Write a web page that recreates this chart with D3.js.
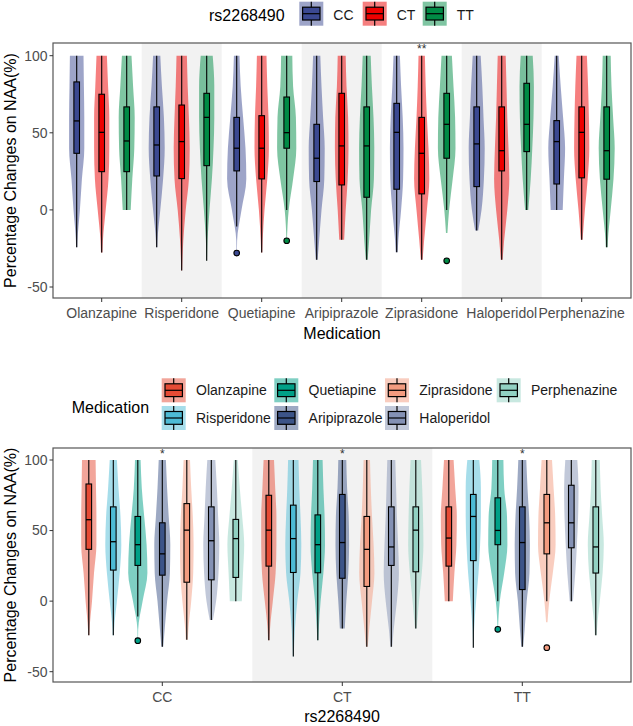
<!DOCTYPE html>
<html><head><meta charset="utf-8">
<script src="https://cdn.jsdelivr.net/npm/d3@7"></script>
<style>body{margin:0;background:#fff}svg{display:block;font-family:"Liberation Sans",Arial,sans-serif}</style>
</head><body>
<svg id="c" width="633" height="726"></svg>
<script>
const medications = ["Olanzapine","Risperidone","Quetiapine","Aripiprazole","Ziprasidone","Haloperidol","Perphenazine"];
const genotypes = ["CC","CT","TT"];
const yTicks = [-50, 0, 50, 100];
const densityLevels = [-40, -20, 0, 20, 40, 60, 80, 100];

// values per medication, in genotype order CC, CT, TT
const q1Values     = [[36.7,24.8,24.8],[22,20.3,28.7],[25.3,20.1,40],[18.4,16.2,8.2],[13.4,10.4,33.5],[15.1,25.3,37.8],[16.8,20.8,19.9]];
const medianValues = [[57.7,50.3,44.7],[42.1,44.3,60],[40,40,50.1],[33.5,41.5,41.5],[50.3,36.7,55.5],[42.8,38.4,55.5],[44.3,50.3,38.4]];
const q3Values     = [[83,75,66.8],[66.8,68,75.6],[60,61.1,73.2],[55.5,75.6,66.8],[69.1,60,75.6],[66.8,66.8,82.1],[57.9,66.8,66.8]];
const lowWhisker   = [[-24.2,-27.7,0],[-24.2,-39.3,-33],[-10.8,-27.7,0],[-32.4,-19.4,-32.4],[-27.4,-32.4,0],[-13.4,-32.4,0],[0,-19.4,-24.2]];
const highWhisker  = [[100,100,100],[100,100,100],[100,100,100],[100,100,100],[100,100,100],[100,100,100],[100,100,100]];
const violinMin    = [[-24.2,-27.7,0],[-24.2,-39.3,-33],[-28,-27.7,-20],[-32.4,-19.4,-32.4],[-27.4,-32.4,-15],[-13.4,-32.4,0],[0,-19.4,-24.2]];
const outlierValues= [[[],[],[]],[[],[],[]],[[-28],[],[-20]],[[],[],[]],[[],[],[-33]],[[],[],[]],[[],[],[]]];
// relative violin density at densityLevels
const densities = [
  [[0,.1,.4,.65,.95,.95,.9,.85],[0,.15,.5,.85,.95,.95,.8,.65],[0,0,.5,.7,.95,1,.8,.6]],
  [[0,.1,.45,.8,1,.9,.65,.45],[.05,.2,.5,.9,1,.9,.75,.65],[0,.1,.35,.65,.85,.95,.95,.75]],
  [[0,.05,.6,1.2,1.1,.8,.5,.35],[0,.12,.35,.7,.9,.85,.7,.6],[0,.03,.25,.8,1.2,1.15,.8,.7]],
  [[0,.3,.6,.95,1,.8,.6,.45],[0,.3,.5,.75,.85,.8,.6,.5],[0,.3,.55,.9,.95,.85,.65,.5]],
  [[0,.2,.55,.8,.85,.75,.55,.4],[0,.3,.65,.95,.85,.65,.5,.4],[0,.02,.3,.75,1.1,1.05,.85,.65]],
  [[0,0,.6,.9,1,.85,.7,.5],[0,.3,.7,.95,.85,.7,.6,.5],[0,0,.2,.5,.7,.85,.9,.75]],
  [[0,0,.75,.9,1.05,.8,.5,.25],[0,.1,.4,.75,.95,.9,.8,.65],[0,.15,.5,.85,1,.8,.6,.5]]
];
// significance marks: [medication, genotype, label] for each panel
const topMarks = [["Ziprasidone","CT","**"]];
const bottomMarks = [["CC","Aripiprazole","*"],["CT","Aripiprazole","*"],["TT","Aripiprazole","*"]];

const genotypeColors = {CC:"#3B4992", CT:"#EE0000", TT:"#008B45"};
const medicationColors = {Olanzapine:"#E64B35", Risperidone:"#4DBBD5", Quetiapine:"#00A087", Aripiprazole:"#3C5488", Ziprasidone:"#F39B7F", Haloperidol:"#8491B4", Perphenazine:"#91D1C2"};

const records = [];
medications.forEach((m,i)=>genotypes.forEach((g,j)=>records.push({
  med:m, geno:g, q1:q1Values[i][j], med50:medianValues[i][j], q3:q3Values[i][j],
  lo:lowWhisker[i][j], hi:highWhisker[i][j], vmin:violinMin[i][j], out:outlierValues[i][j], dens:densities[i][j]
})));

const svg = d3.select("#c");
const tickCol = "#4D4D4D";
const HALF_W = 8, BOX_HW = 2.8;

function densAt(d, v){
  const L = densityLevels;
  if (v <= L[0]) return d[0];
  for (let k=1;k<L.length;k++){ if (v<=L[k]){ const t=(v-L[k-1])/(L[k]-L[k-1]); return d[k-1]+(d[k]-d[k-1])*t; } }
  return d[L.length-1];
}

function drawPanel(cfg){
  const {x0,y0,w,h,outerDomain,outerRange,innerDomain,innerRange,yRange,outerKey,innerKey,colorOf,marks,xTitle,titleY,tickLabelY} = cfg;
  const g = svg.append("g");
  const xo = d3.scaleBand().domain(outerDomain).range(outerRange);
  const xi = d3.scaleBand().domain(innerDomain).range(innerRange);
  const y = d3.scaleLinear().domain([-50,100]).range(yRange);
  const cxOf = (o,i)=> xo(o)+xo.bandwidth()/2 + xi(i)+xi.bandwidth()/2;
  const clipId = "clip"+Math.round(y0);
  svg.append("clipPath").attr("id",clipId).append("rect").attr("x",x0).attr("y",y0).attr("width",w).attr("height",h);
  const pg = g.append("g").attr("clip-path",`url(#${clipId})`);
  pg.append("rect").attr("x",x0).attr("y",y0).attr("width",w).attr("height",h).attr("fill","#fff");
  outerDomain.forEach((o,k)=>{ if(k%2===1) pg.append("rect").attr("x",xo(o)).attr("y",y0).attr("width",xo.bandwidth()).attr("height",h).attr("fill","#F2F2F2"); });
  const area = d3.area().curve(d3.curveMonotoneY);
  records.forEach(r=>{
    const o=r[outerKey], i=r[innerKey], cx=cxOf(o,i), col=colorOf(r);
    const vals=[r.vmin, ...densityLevels.filter(v=>v>r.vmin && v<100), 100];
    const pts = vals.map(v=>({v, w:densAt(r.dens,v)*HALF_W}));
    area.x0(p=>cx-p.w).x1(p=>cx+p.w).y(p=>y(p.v));
    pg.append("path").attr("d",area(pts)).attr("fill",col).attr("fill-opacity",0.5);
  });
  records.forEach(r=>{
    const o=r[outerKey], i=r[innerKey], cx=cxOf(o,i), col=colorOf(r);
    pg.append("line").attr("x1",cx).attr("x2",cx).attr("y1",y(r.lo)).attr("y2",y(r.q1)).attr("stroke","#000").attr("stroke-width",1.1);
    pg.append("line").attr("x1",cx).attr("x2",cx).attr("y1",y(r.q3)).attr("y2",y(r.hi)).attr("stroke","#000").attr("stroke-width",1.1);
    pg.append("rect").attr("x",cx-BOX_HW).attr("y",y(r.q3)).attr("width",BOX_HW*2).attr("height",y(r.q1)-y(r.q3)).attr("fill",col).attr("stroke","#000").attr("stroke-width",1.1);
    pg.append("line").attr("x1",cx-BOX_HW).attr("x2",cx+BOX_HW).attr("y1",y(r.med50)).attr("y2",y(r.med50)).attr("stroke","#000").attr("stroke-width",1.3);
    r.out.forEach(v=>pg.append("circle").attr("cx",cx).attr("cy",y(v)).attr("r",2.8).attr("fill",col).attr("stroke","#000").attr("stroke-width",1.1));
  });
  marks.forEach(([o,i,lab])=>{
    pg.append("text").attr("x",cxOf(o,i)).attr("y",y0+9.5).attr("text-anchor","middle").attr("font-size",12).attr("fill","#333").text(lab);
  });
  g.append("rect").attr("x",x0).attr("y",y0).attr("width",w).attr("height",h).attr("fill","none").attr("stroke","#555").attr("stroke-width",1.2);
  // y axis
  yTicks.forEach(t=>{
    g.append("line").attr("x1",x0-3.5).attr("x2",x0).attr("y1",y(t)).attr("y2",y(t)).attr("stroke","#333").attr("stroke-width",1);
    g.append("text").attr("x",x0-5.5).attr("y",y(t)).attr("dy","0.35em").attr("text-anchor","end").attr("font-size",14).attr("fill",tickCol).text(t);
  });
  // x axis
  outerDomain.forEach(o=>{
    const cx = xo(o)+xo.bandwidth()/2;
    g.append("line").attr("x1",cx).attr("x2",cx).attr("y1",y0+h).attr("y2",y0+h+4).attr("stroke","#333").attr("stroke-width",1);
    g.append("text").attr("x",cx).attr("y",tickLabelY).attr("text-anchor","middle").attr("font-size",14).attr("fill",tickCol).text(o);
  });
  g.append("text").attr("x",x0+w/2).attr("y",titleY).attr("text-anchor","middle").attr("font-size",16).attr("fill","#000").text(xTitle);
  g.append("text").attr("transform",`translate(16,${y0+h/2}) rotate(-90)`).attr("text-anchor","middle").attr("font-size",16).attr("fill","#000").text("Percentage Changes on NAA(%)");
}

drawPanel({x0:53,y0:43,w:578,h:255,outerDomain:medications,outerRange:[61.7,621.7],innerDomain:genotypes,innerRange:[-37.5,37.5],
  yRange:[287,55.7],outerKey:"med",innerKey:"geno",colorOf:r=>genotypeColors[r.geno],marks:topMarks,xTitle:"Medication",titleY:339,tickLabelY:317.7});
drawPanel({x0:53,y0:448,w:578,h:234,outerDomain:genotypes,outerRange:[72.3,612.3],innerDomain:medications,innerRange:[-85.75,85.75],
  yRange:[671.7,460],outerKey:"geno",innerKey:"med",colorOf:r=>medicationColors[r.med],marks:bottomMarks,xTitle:"rs2268490",titleY:721.7,tickLabelY:701.7});

function legendKey(x,y,col){
  const g = svg.append("g");
  g.append("rect").attr("x",x).attr("y",y).attr("width",24).attr("height",24).attr("fill",col).attr("fill-opacity",0.5);
  g.append("line").attr("x1",x+12).attr("x2",x+12).attr("y1",y).attr("y2",y+24).attr("stroke","#000").attr("stroke-width",1.2);
  g.append("rect").attr("x",x+3.3).attr("y",y+5.5).attr("width",17.4).attr("height",12.8).attr("fill",col).attr("stroke","#000").attr("stroke-width",1.2);
  g.append("line").attr("x1",x+3.3).attr("x2",x+20.7).attr("y1",y+12).attr("y2",y+12).attr("stroke","#000").attr("stroke-width",1.2);
}
// top legend
svg.append("text").attr("x",209).attr("y",20.7).attr("font-size",16).attr("fill","#000").text("rs2268490");
const topKeyX = [299.3, 362.7, 422.7];
genotypes.forEach((gt,k)=>{
  legendKey(topKeyX[k],1.7,genotypeColors[gt]);
  svg.append("text").attr("x",topKeyX[k]+34).attr("y",20).attr("font-size",14).attr("fill","#1a1a1a").text(gt);
});
// bottom legend
svg.append("text").attr("x",71.7).attr("y",413).attr("font-size",16).attr("fill","#000").text("Medication");
const colX = [161.7, 274.3, 385, 496.7], rowY = [378.3, 406];
medications.forEach((m,k)=>{
  const c = Math.floor(k/2), r = k%2;
  legendKey(colX[c],rowY[r],medicationColors[m]);
  svg.append("text").attr("x",colX[c]+34.3).attr("y",rowY[r]+17).attr("font-size",14).attr("fill","#1a1a1a").text(m);
});
</script>
</body></html>
